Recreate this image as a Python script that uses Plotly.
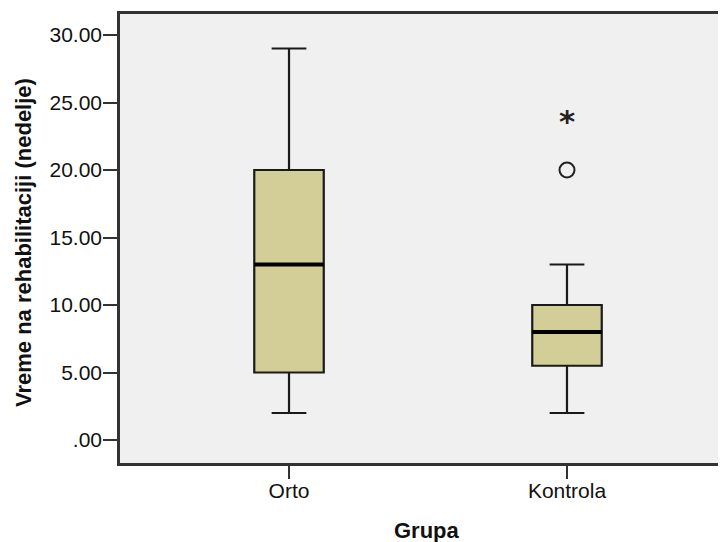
import plotly.graph_objects as go

groups = ["Orto", "Kontrola"]
lower_whisker = [2, 2]
q1 = [5, 5.5]
median = [13, 8]
q3 = [20, 10]
upper_whisker = [29, 13]

outlier_group = ["Kontrola"]
outlier_circle = [20]
extreme_group = ["Kontrola"]
extreme_star = [24]

ytick_vals = [0, 5, 10, 15, 20, 25, 30]
ytick_text = [".00", "5.00", "10.00", "15.00", "20.00", "25.00", "30.00"]

font_family = "Liberation Sans, Arial, sans-serif"
fig = go.Figure()
fig.add_trace(go.Box(
    x=groups, q1=q1, median=median, q3=q3,
    lowerfence=lower_whisker, upperfence=upper_whisker,
    fillcolor="#D3CE98", line=dict(color="#1a1a1a", width=2.2),
    width=0.25, whiskerwidth=0.5, boxpoints=False, showlegend=False,
    hoverinfo="skip",
))
# thicker median line (degenerate box at the median)
fig.add_trace(go.Box(
    x=groups, q1=median, median=median, q3=median,
    lowerfence=median, upperfence=median,
    fillcolor="rgba(0,0,0,0)", line=dict(color="#000000", width=4),
    width=0.25, whiskerwidth=0, boxpoints=False, showlegend=False,
    hoverinfo="skip",
))
fig.add_trace(go.Scatter(
    x=outlier_group, y=outlier_circle, mode="markers",
    marker=dict(symbol="circle-open", size=15, color="#222222", line=dict(width=2)),
    showlegend=False,
))

star_annotations = [
    dict(text="<b>*</b>", x=g, y=v, xref="x", yref="y", showarrow=False,
         xanchor="center", yanchor="middle", yshift=-5,
         font=dict(size=31, family="DejaVu Sans, sans-serif", color="#222222"))
    for g, v in zip(extreme_group, extreme_star)
]

fig.update_layout(
    width=718, height=534,
    margin=dict(l=112, r=0, t=6, b=79),
    paper_bgcolor="white", plot_bgcolor="#F0F0F0",
    font=dict(family=font_family, size=21, color="#111111"),
    boxmode="overlay",
    annotations=[
        dict(text="<b>Vreme na rehabilitaciji (nedelje)</b>", xref="paper", yref="paper",
             x=-0.1584, y=0.49, textangle=-90, showarrow=False,
             xanchor="center", yanchor="middle",
             font=dict(size=22, family=font_family, color="#111111")),
        dict(text="<b>Grupa</b>", xref="paper", yref="paper",
             x=0.5066, y=-0.151, showarrow=False,
             xanchor="center", yanchor="middle",
             font=dict(size=22, family=font_family, color="#111111")),
    ] + star_annotations,
)
fig.update_xaxes(
    type="category", categoryorder="array", categoryarray=groups,
    range=[-0.608, 1.572], automargin=False,
    showline=True, linecolor="#333333", linewidth=2.5, mirror=True,
    ticks="outside", ticklen=13, tickwidth=2, tickcolor="#333333",
    ticklabelstandoff=-6,
    showgrid=False, zeroline=False,
    tickfont=dict(size=21, family=font_family, color="#111111"),
)
fig.update_yaxes(
    range=[-1.704, 31.556], automargin=False,
    tickvals=ytick_vals, ticktext=ytick_text,
    showline=True, linecolor="#333333", linewidth=2.5, mirror=False,
    ticks="outside", ticklen=14, tickwidth=2, tickcolor="#333333",
    ticklabelstandoff=-3,
    showgrid=False, zeroline=False,
    tickfont=dict(size=21, family=font_family, color="#111111"),
)

fig.write_html("out.html")
